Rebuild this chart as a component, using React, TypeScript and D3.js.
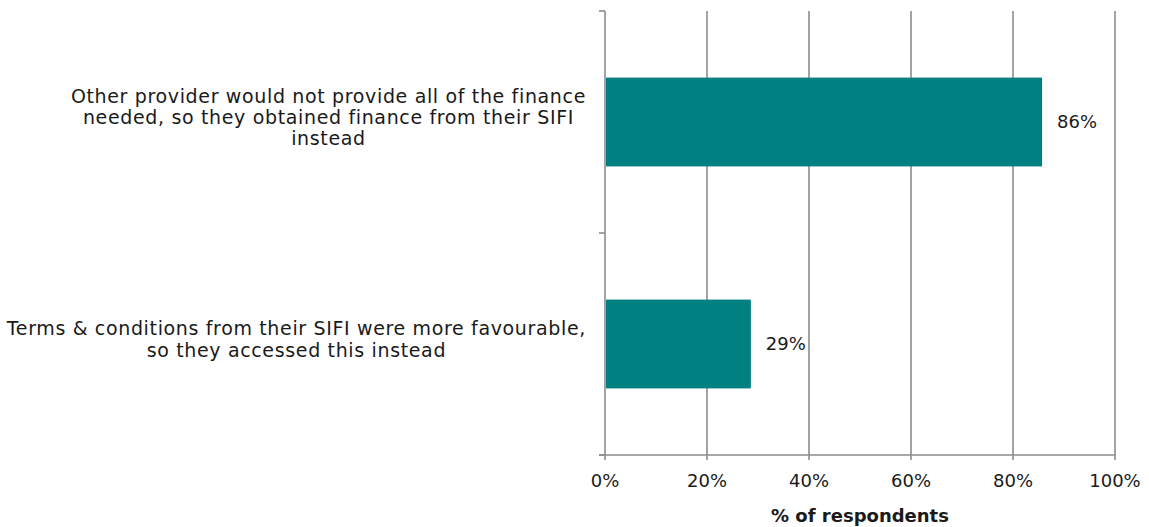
import { useEffect, useRef } from 'react';
import * as d3 from 'd3';

const categories = [
  ['Other provider would not provide all of the finance', 'needed, so they obtained finance from their SIFI', 'instead'],
  ['Terms & conditions from their SIFI were more favourable,', 'so they accessed this instead'],
];
const values = [85.7, 28.6];
const ticks = [0, 20, 40, 60, 80, 100];
const axisTitle = '% of respondents';

const width = 1149;
const height = 527;
const margin = { top: 11, right: 34, bottom: 72, left: 605 };
const font = "'DejaVu Sans', sans-serif";
const gridColor = '#8c8c8c';
const barColor = '#008080';
const textColor = '#1a1a1a';

const App = () => {
  const svgRef = useRef<SVGSVGElement>(null!);

  useEffect(() => {
    const svg = d3.select(svgRef.current);
    svg.selectAll('*').remove();

    const x = d3.scaleLinear().domain([0, 100]).range([margin.left, width - margin.right]);
    const yEdge = d3.scaleLinear().domain([0, categories.length]).range([margin.top, height - margin.bottom]);
    const y = d3
      .scaleBand<number>()
      .domain(d3.range(categories.length))
      .range([margin.top, height - margin.bottom])
      .paddingInner(0.6)
      .paddingOuter(0.3);

    const bottom = height - margin.bottom;

    // gridlines
    svg
      .append('g')
      .selectAll('line')
      .data(ticks)
      .join('line')
      .attr('x1', d => x(d))
      .attr('x2', d => x(d))
      .attr('y1', margin.top)
      .attr('y2', bottom + 5)
      .attr('stroke', gridColor)
      .attr('stroke-width', 1.6);

    // bottom axis line
    svg
      .append('line')
      .attr('x1', x(0) - 6)
      .attr('x2', x(100))
      .attr('y1', bottom)
      .attr('y2', bottom)
      .attr('stroke', gridColor)
      .attr('stroke-width', 1.6);

    // left category ticks
    svg
      .append('g')
      .selectAll('line')
      .data(d3.range(categories.length + 1))
      .join('line')
      .attr('x1', x(0) - 6)
      .attr('x2', x(0))
      .attr('y1', d => yEdge(d))
      .attr('y2', d => yEdge(d))
      .attr('stroke', gridColor)
      .attr('stroke-width', 1.6);

    // bars
    svg
      .append('g')
      .selectAll('rect')
      .data(values)
      .join('rect')
      .attr('x', x(0) + 1)
      .attr('y', (_, i) => y(i)!)
      .attr('width', d => x(d) - x(0) - 1)
      .attr('height', y.bandwidth())
      .attr('fill', barColor);

    // value labels
    svg
      .append('g')
      .selectAll('text')
      .data(values)
      .join('text')
      .attr('x', d => x(d) + 15)
      .attr('y', (_, i) => y(i)! + y.bandwidth() / 2)
      .attr('dy', '0.35em')
      .attr('font-family', font)
      .attr('font-size', 18)
      .attr('fill', textColor)
      .text(d => `${Math.round(d)}%`);

    // tick labels
    svg
      .append('g')
      .selectAll('text')
      .data(ticks)
      .join('text')
      .attr('x', d => x(d))
      .attr('y', bottom + 26)
      .attr('dy', '0.35em')
      .attr('text-anchor', 'middle')
      .attr('font-family', font)
      .attr('font-size', 18)
      .attr('fill', textColor)
      .text(d => `${d}%`);

    // axis title
    svg
      .append('text')
      .attr('x', (x(0) + x(100)) / 2)
      .attr('y', bottom + 61)
      .attr('dy', '0.35em')
      .attr('text-anchor', 'middle')
      .attr('font-family', font)
      .attr('font-size', 18)
      .attr('font-weight', 'bold')
      .attr('fill', textColor)
      .text(axisTitle);

    // category labels: lines centred on each other, longest line ends near the axis
    const lineH = 21.2;
    const rightEdge = x(0) - 19;
    categories.forEach((lines, i) => {
      const cy = y(i)! + y.bandwidth() / 2 + 2;
      const text = svg
        .append('text')
        .attr('text-anchor', 'middle')
        .attr('font-family', font)
        .attr('font-size', 19)
        .attr('letter-spacing', 0.65)
        .attr('fill', textColor);
      const spans = text
        .selectAll('tspan')
        .data(lines)
        .join('tspan')
        .attr('y', (_, j) => cy + (j - (lines.length - 1) / 2) * lineH)
        .text(d => d);
      let maxW = 0;
      spans.each(function () {
        maxW = Math.max(maxW, (this as SVGTSpanElement).getComputedTextLength());
      });
      spans.attr('x', rightEdge - maxW / 2);
    });
  }, []);

  return (
    <svg
      ref={svgRef}
      width={width}
      height={height}
      style={{ position: 'absolute', left: 0, top: 0, background: '#fff' }}
    />
  );
};

export default App;
